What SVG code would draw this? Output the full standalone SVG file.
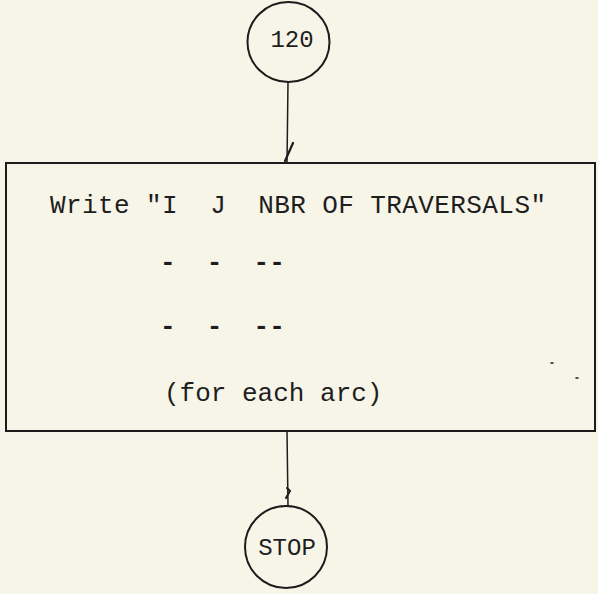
<svg xmlns="http://www.w3.org/2000/svg" width="598" height="594" viewBox="0 0 598 594">
<style>
.ln{stroke:#1c1c1c;fill:none;stroke-linecap:round}
.t{font-family:"Liberation Mono","Courier New",monospace;font-size:26px;fill:#1e1e1e}
.d{font-weight:bold}
.c{font-family:"Liberation Mono","Courier New",monospace;font-size:24px;fill:#1e1e1e;text-anchor:middle}
</style>
<rect width="598" height="594" fill="#f7f5e8"/>
<g id="connectors">
<path class="ln" stroke-width="1.5" d="M288 82 L287 163"/>
<path class="ln" stroke-width="2.2" d="M285 161 L293 143"/>
<path class="ln" stroke-width="1.5" d="M287 431 L288 506"/>
<path class="ln" stroke-width="2" d="M286 498 L290 491 L287 488"/>
</g>
<g id="n120">
<ellipse class="ln" stroke-width="2" cx="288.5" cy="42" rx="41" ry="40"/>
<text class="c" x="292" y="47">120</text>
</g>
<g id="write">
<rect class="ln" stroke-width="2" x="6" y="163" width="589" height="268"/>
<text class="t" x="50" y="213" xml:space="preserve" textLength="496" lengthAdjust="spacing">Write "I  J  NBR OF TRAVERSALS"</text>
<text class="t d" x="160" y="270" xml:space="preserve">-  -  --</text>
<text class="t d" x="160" y="334" xml:space="preserve">-  -  --</text>
<text class="t" x="164" y="401" xml:space="preserve">(for each arc)</text>
<path class="ln" stroke-width="1.5" d="M551 363 L553 363 M576 378 L578 378"/>
</g>
<g id="stop">
<ellipse class="ln" stroke-width="2" cx="286" cy="547" rx="41" ry="41"/>
<text class="c" x="287" y="555">STOP</text>
</g>
</svg>
